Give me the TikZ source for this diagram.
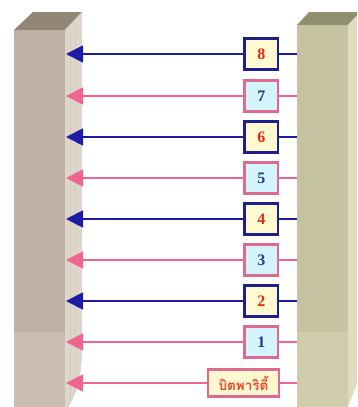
\documentclass[tikz,border=0pt]{standalone}
\usepackage{fontspec}
\setmainfont{Liberation Serif}
\newfontfamily\thaifont[Script=Thai]{Loma}
\usetikzlibrary{arrows.meta}

% pillar shades
\definecolor{lfront}{HTML}{BFB1A3}
\definecolor{lfrontlow}{HTML}{CABEB1}
\definecolor{ltop}{HTML}{928676}
\definecolor{lside}{HTML}{DED5CB}
\definecolor{lstripe}{HTML}{D6CDC2}
\definecolor{rfront}{HTML}{C6C4A0}
\definecolor{rfrontlow}{HTML}{CFCDAC}
\definecolor{rtop}{HTML}{908F6F}
\definecolor{rside}{HTML}{DEDDC0}
% wires and boxes
\definecolor{wireblue}{HTML}{1C1CA6}
\definecolor{wirepink}{HTML}{EE6690}
\definecolor{boxblue}{HTML}{1E1E8C}
\definecolor{boxpink}{HTML}{DE6A92}
\definecolor{paleyellow}{HTML}{FFF9D2}
\definecolor{palecyan}{HTML}{D2F4FA}
\definecolor{digitred}{HTML}{E02A12}
\definecolor{digitblue}{HTML}{1C3C8C}
\definecolor{labelred}{HTML}{E8482A}

\tikzset{
  bitbox/.style={line width=2.4pt, minimum width=33.5pt, minimum height=31pt,
    inner sep=0pt, font=\fontsize{16}{16}\selectfont\bfseries},
  bluebox/.style={bitbox, draw=boxblue, fill=paleyellow, text=digitred},
  pinkbox/.style={bitbox, draw=boxpink, fill=palecyan, text=digitblue},
  paritybox/.style={line width=2.4pt, draw=boxpink, fill=paleyellow, text=labelred,
    minimum width=70.5pt, minimum height=27pt, inner sep=0pt,
    font=\thaifont\fontsize{13.5}{13.5}\selectfont\bfseries},
  bluewire/.style={draw=wireblue, line width=1.8pt},
  pinkwire/.style={draw=wirepink, line width=1.8pt},
  headtip/.style={-{Triangle[length=17pt,width=17pt]}},
}

\begin{document}
\begin{tikzpicture}[x=1pt,y=-1pt]
\useasboundingbox (0,0) rectangle (357,407);

% left pillar
\fill[lfront] (14,30) rectangle (65,332);
\fill[lfrontlow] (14,332) rectangle (65,407);
\fill[ltop] (14,30) -- (33,12) -- (82,12) -- (65,30) -- cycle;
\fill[lside] (65,30) -- (82,12) -- (82,357)
  .. controls (80,385) and (74,399) .. (68,407) -- (65,407) -- cycle;
\foreach \sx in {70,75} {
  \draw[lstripe, line width=0.5pt] (\sx,{30-(\sx-65)*18/17+2}) -- (\sx,{\sx<72 ? 402 : 392});
}

% right pillar
\fill[rfront] (297,25) rectangle (348,332);
\fill[rfrontlow] (297,332) rectangle (348,407);
\fill[rtop] (297,25) -- (309,12) -- (357,12) -- (357,15.5) -- (348,25) -- cycle;
\fill[rside] (348,25) -- (357,15.5) -- (357,383)
  .. controls (354,392) and (351,399) .. (348,407) -- cycle;

% bit boxes
\node[bluebox] (b8) at (261.3,54) {8};
\node[pinkbox] (b7) at (261.3,96) {7};
\node[bluebox] (b6) at (261.3,137) {6};
\node[pinkbox] (b5) at (261.3,178) {5};
\node[bluebox] (b4) at (261.3,219) {4};
\node[pinkbox] (b3) at (261.3,260) {3};
\node[bluebox] (b2) at (261.3,301) {2};
\node[pinkbox] (b1) at (261.3,342) {1};
\node[paritybox] (bp) at (243.5,383) {บิตพาริตี้};

% wire ends on the two pillars
\foreach \n/\yy in {8/54,7/96,6/137,5/178,4/219,3/260,2/301,1/342,p/383} {
  \coordinate (r\n) at (297,\yy);
  \coordinate (l\n) at (66,\yy);
}

% wires
\foreach \n in {8,6,4,2} {
  \draw[bluewire] (r\n) -- (b\n.east);
  \draw[bluewire, headtip] (b\n.west) -- (l\n);
}
\foreach \n in {7,5,3,1,p} {
  \draw[pinkwire] (r\n) -- (b\n.east);
  \draw[pinkwire, headtip] (b\n.west) -- (l\n);
}
\end{tikzpicture}
\end{document}
